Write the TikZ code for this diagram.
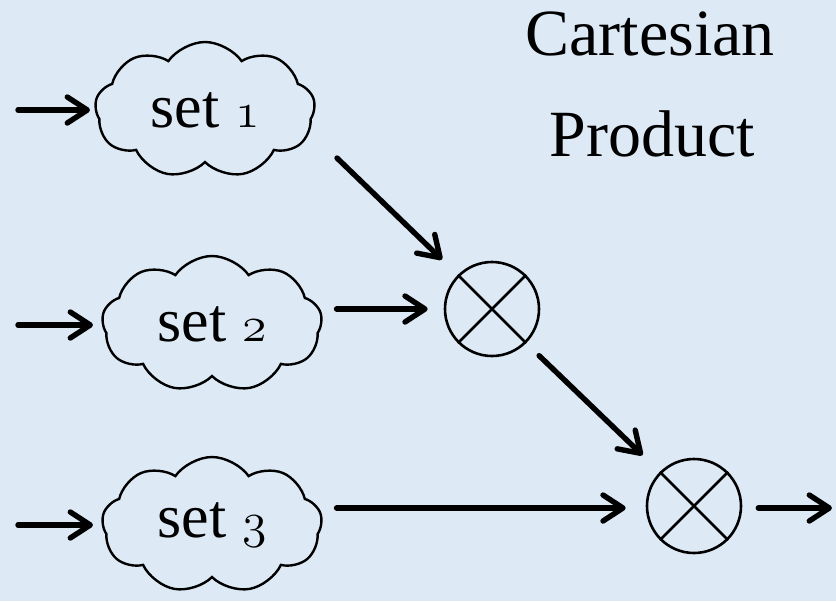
\documentclass[tikz,border=0pt]{standalone}
\usepackage{fontspec}
\setmainfont{Liberation Serif}
\usetikzlibrary{shapes.symbols,arrows.meta}
\definecolor{bgblue}{HTML}{DDEAF6}
\tikzset{
  setcloud/.style={cloud, draw, line width=1.2pt, cloud puffs=9, cloud puff arc=110,
    cloud ignores aspect, minimum width=110pt, minimum height=68pt, inner sep=0pt,
    font=\fontsize{31}{36}\selectfont},
  prodop/.style={circle, draw, line width=1.3pt, minimum size=47pt, inner sep=0pt},
  crossline/.style={line width=1.3pt},
  flow/.style={line width=2.7pt, line cap=round,
    -{Straight Barb[length=10pt, width=13pt, line cap=round, line join=round]}},
  title/.style={font=\fontsize{33}{38}\selectfont}
}
% old-style figures taken from the math italic font
\newcommand{\osn}[1]{{\fontsize{39}{42}\usefont{OML}{cmm}{m}{it}#1}}
\begin{document}
\begin{tikzpicture}[x=0.5pt, y=-0.5pt]
  \fill[bgblue] (0,0) rectangle (836,601);
  \useasboundingbox (0,0) rectangle (836,601);

  % input sets
  \node[setcloud] (s1) at (205,110) {set \osn{1}};
  \node[setcloud] (s2) at (212,324) {set \osn{2}};
  \node[setcloud] (s3) at (212,525) {set \osn{3}};

  % product operators: circles with a diagonal cross
  \node[prodop] (c1) at (492,309) {};
  \node[prodop] (c2) at (694,506) {};
  \foreach \c in {c1,c2} {
    \draw[crossline] (\c.north west) -- (\c.south east);
    \draw[crossline] (\c.north east) -- (\c.south west);
  }

  % title
  \node[title] (t1) at (650,34) {Cartesian};
  \node[title] (t2) at (652,134) {Product};

  % free ends of the input and output arrows
  \coordinate (in1) at (18,110);
  \coordinate (in2) at (18,325);
  \coordinate (in3) at (18,525);
  \coordinate (e1) at (90,110);
  \coordinate (e2) at (93,325);
  \coordinate (e3) at (93,525);
  \coordinate (out) at (832,508);
  \coordinate (s1out) at (337,158);

  \draw[flow] (in1) -- (e1);
  \draw[flow] (in2) -- (e2);
  \draw[flow] (in3) -- (e3);

  \draw[flow, shorten >=11pt] (s1out) -- (c1.north west);
  \draw[flow, shorten <=7pt, shorten >=8pt] (s2.east |- c1.west) -- (c1.west);
  \draw[flow, shorten <=9pt, shorten >=12pt] (c1.south east) -- (c2.north west);
  \draw[flow, shorten <=7pt, shorten >=10pt] (s3.east |- 0,508) -- (c2.west |- 0,508);
  \draw[flow, shorten <=8pt] (c2.east |- out) -- (out);
\end{tikzpicture}
\end{document}
